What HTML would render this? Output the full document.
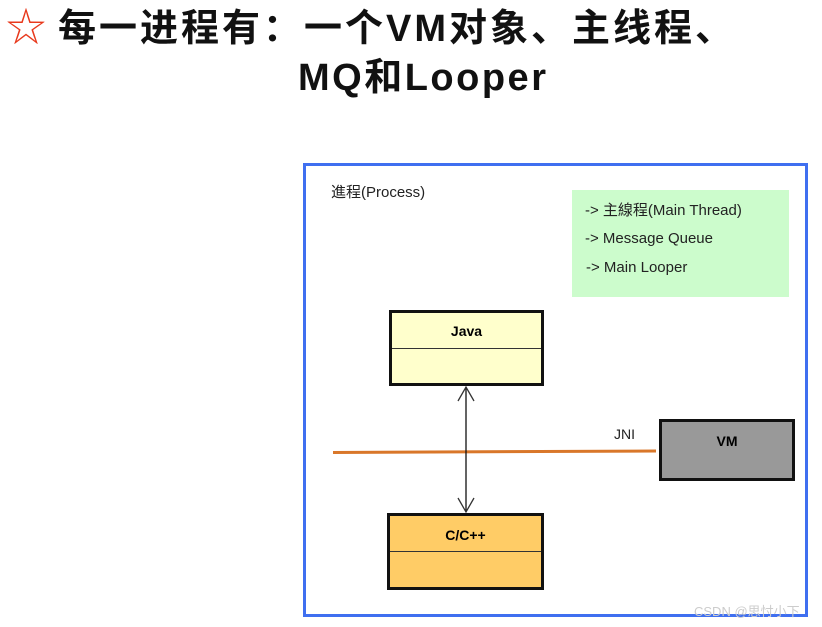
<!DOCTYPE html>
<html><head><meta charset="utf-8"><style>
body{margin:0;width:822px;height:627px;background:#fff;position:relative;overflow:hidden;font-family:"Liberation Sans","Noto Sans CJK SC",sans-serif}
.a{position:absolute}
.t{font-weight:bold;font-size:38px;color:#111;white-space:nowrap}
.box{position:absolute;border:3px solid #111;box-sizing:border-box}
.box .h{height:35px;border-bottom:1px solid #333;text-align:center;font-weight:bold;font-size:14px;line-height:38px}
.s{font-size:15px;color:#222;white-space:nowrap}
</style></head><body>
<div class="a" style="left:6px;top:6px;font-size:40px;color:#e8391c;line-height:44px">☆</div>
<div class="a t" style="left:58px;top:6px;line-height:46px;letter-spacing:3px">每一进程有：一个VM对象、主线程、</div>
<div class="a t" style="left:298px;top:55px;line-height:46px;letter-spacing:2.5px">MQ和Looper</div>
<div class="a" style="left:303px;top:163px;width:499px;height:448px;border:3px solid #3f6ff0"></div>
<div class="a s" style="left:331px;top:181px">進程(Process)</div>
<div class="a" style="left:572px;top:190px;width:217px;height:107px;background:#ccfccc"></div>
<div class="a s" style="left:585px;top:199px">-&gt; 主線程(Main Thread)</div>
<div class="a s" style="left:585px;top:230px">-&gt; Message Queue</div>
<div class="a s" style="left:586px;top:259px">-&gt; Main Looper</div>
<div class="box" style="left:389px;top:310px;width:155px;height:76px;background:#ffffcc"><div class="h" style="line-height:36px">Java</div></div>
<div class="box" style="left:387px;top:513px;width:157px;height:77px;background:#ffcc66"><div class="h" style="line-height:38px">C/C++</div></div>
<div class="box" style="left:659px;top:419px;width:136px;height:62px;background:#999"><div class="h" style="border:none;line-height:38px">VM</div></div>
<div class="a s" style="left:614px;top:426px;font-size:14px">JNI</div>
<svg class="a" style="left:0;top:0" width="822" height="627">
<line x1="333" y1="452.5" x2="656" y2="451" stroke="#d9772a" stroke-width="3"/>
<line x1="466" y1="387" x2="466" y2="512" stroke="#111" stroke-width="1.3"/>
<polyline points="458,401 466,387 474,401" fill="none" stroke="#333" stroke-width="1.3"/>
<polyline points="458,498 466,512 474,498" fill="none" stroke="#333" stroke-width="1.3"/>
</svg>
<div class="a" style="left:694px;top:601px;font-size:13px;color:#ccc">CSDN @思忖小下</div>
</body></html>
